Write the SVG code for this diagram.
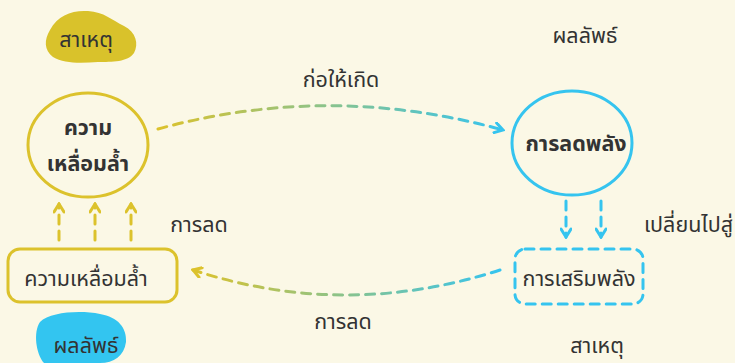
<svg xmlns="http://www.w3.org/2000/svg" width="735" height="363" viewBox="0 0 735 363">
<style>
text{font-family:"Noto Sans Thai","Noto Sans","Liberation Sans",sans-serif;fill:#333;text-anchor:middle}
.lbl{font-size:21.5px}
.bold{font-size:21.5px;font-weight:bold}
.y{stroke:#dcc22c;fill:none;stroke-width:3;stroke-linecap:round}
.b{stroke:#35c4ef;fill:none;stroke-width:3;stroke-linecap:round}
.dash{stroke-dasharray:9 7}
</style>
<defs>
<linearGradient id="gTop" gradientUnits="userSpaceOnUse" x1="158" y1="0" x2="503" y2="0">
<stop offset="0" stop-color="#dcc22c"/><stop offset="1" stop-color="#35c4ef"/>
</linearGradient>
<linearGradient id="gBot" gradientUnits="userSpaceOnUse" x1="193" y1="0" x2="500" y2="0">
<stop offset="0" stop-color="#dcc22c"/><stop offset="1" stop-color="#35c4ef"/>
</linearGradient>
<marker id="mb" viewBox="0 0 12 12" refX="10" refY="6" markerWidth="12" markerHeight="12" markerUnits="userSpaceOnUse" orient="auto">
<path d="M2,1 L10,6 L2,11" fill="none" stroke="#35c4ef" stroke-width="3" stroke-linecap="round"/>
</marker>
<marker id="my" viewBox="0 0 12 12" refX="10" refY="6" markerWidth="12" markerHeight="12" markerUnits="userSpaceOnUse" orient="auto">
<path d="M2,1 L10,6 L2,11" fill="none" stroke="#dcc22c" stroke-width="3" stroke-linecap="round"/>
</marker>
</defs>
<rect width="735" height="363" fill="#fbf8e6"/>

<g id="blob-cause">
<path d="M50,30 C58,15 72,10 88,11 C104,12 112,20 124,26 C136,32 139,44 134,53 C128,62 112,62 98,62 C82,63 64,64 53,57 C44,50 44,40 50,30 Z" fill="#d9c22b"/>
<text class="lbl" x="86" y="47">สาเหตุ</text>
</g>

<g id="blob-result">
<path d="M40,322 C50,312 80,310 100,314 C118,317 127,328 126,342 C124,356 114,363 100,363 L44,363 C36,354 33,332 40,322 Z" fill="#33c5f0"/>
<text class="lbl" x="86" y="353">ผลลัพธ์</text>
</g>

<g id="node-inequality-circle">
<ellipse cx="88" cy="145" rx="60" ry="52" fill="#fff" class="y"/>
<text class="bold" x="88" y="135">ความ</text>
<text class="bold" x="88" y="171">เหลื่อมล้ำ</text>
</g>

<g id="node-inequality-rect">
<rect x="8" y="249" width="169" height="53" rx="12" fill="#fff" class="y"/>
<text class="lbl" x="86" y="286">ความเหลื่อมล้ำ</text>
</g>

<g id="node-disempower">
<ellipse cx="572" cy="143" rx="60" ry="52" fill="#fff" class="b"/>
<text class="bold" x="576" y="151">การลดพลัง</text>
</g>

<g id="node-empower">
<rect x="515" y="249" width="128" height="55" rx="10" fill="#fff" class="b dash"/>
<text class="lbl" x="579" y="286">การเสริมพลัง</text>
</g>

<g id="connectors">
<path d="M158,129 Q330,82 503,130" fill="none" stroke="url(#gTop)" stroke-width="3" stroke-linecap="round" class="dash" marker-end="url(#mb)"/>
<path d="M500,270 Q345,320 193,270" fill="none" stroke="url(#gBot)" stroke-width="3" stroke-linecap="round" class="dash" marker-end="url(#my)"/>
<path d="M59,240 L59,204" class="y dash" marker-end="url(#my)"/>
<path d="M95,240 L95,204" class="y dash" marker-end="url(#my)"/>
<path d="M131,240 L131,204" class="y dash" marker-end="url(#my)"/>
<path d="M566,201 L566,237" class="b dash" marker-end="url(#mb)"/>
<path d="M601,201 L601,237" class="b dash" marker-end="url(#mb)"/>
</g>

<g id="labels">
<text class="lbl" x="341" y="87">ก่อให้เกิด</text>
<text class="lbl" x="199" y="232">การลด</text>
<text class="lbl" x="343" y="329">การลด</text>
<text class="lbl" x="585" y="43">ผลลัพธ์</text>
<text class="lbl" x="597" y="353">สาเหตุ</text>
<text class="lbl" x="644" y="232" style="text-anchor:start">เปลี่ยนไปสู่</text>
</g>
</svg>
